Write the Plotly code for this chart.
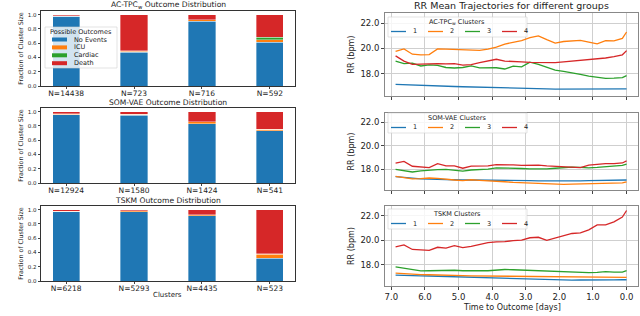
import plotly.graph_objects as go

# ---------------- data ----------------
outcomes = ["No Events", "ICU", "Cardiac", "Death"]
outcome_colors = ["#1f77b4", "#ff7f0e", "#2ca02c", "#d62728"]

actpc_sizes = ["N=14438", "N=723", "N=716", "N=592"]
actpc_no_events = [0.976, 0.476, 0.907, 0.615]
actpc_icu = [0.004, 0.014, 0.018, 0.033]
actpc_cardiac = [0.003, 0.005, 0.005, 0.037]
actpc_death = [0.017, 0.505, 0.070, 0.315]

somvae_sizes = ["N=12924", "N=1580", "N=1424", "N=541"]
somvae_no_events = [0.958, 0.950, 0.827, 0.732]
somvae_icu = [0.008, 0.010, 0.028, 0.022]
somvae_cardiac = [0.004, 0.005, 0.004, 0.002]
somvae_death = [0.030, 0.035, 0.141, 0.244]

tskm_sizes = ["N=6218", "N=5293", "N=4435", "N=523"]
tskm_no_events = [0.967, 0.970, 0.915, 0.320]
tskm_icu = [0.008, 0.013, 0.010, 0.058]
tskm_cardiac = [0.005, 0.002, 0.005, 0.002]
tskm_death = [0.020, 0.015, 0.070, 0.620]

days = [6.875, 6.625, 6.375, 6.125, 5.875, 5.625, 5.375, 5.125, 4.875, 4.625,
        4.375, 4.125, 3.875, 3.625, 3.375, 3.125, 2.875, 2.625, 2.375, 2.125,
        1.875, 1.625, 1.375, 1.125, 0.875, 0.625, 0.375, 0.125, 0.0]

actpc_rr_1 = [17.16, 17.13, 17.1, 17.07, 17.05, 17.05, 17.03, 17.0, 16.98, 16.97, 16.95, 16.93, 16.9, 16.9, 16.88,
              16.86, 16.85, 16.84, 16.82, 16.8, 16.8, 16.81, 16.8, 16.79, 16.8, 16.8, 16.79, 16.8, 16.82]
actpc_rr_2 = [19.77, 19.96, 19.55, 19.5, 19.52, 19.96, 19.95, 19.93, 19.9, 19.86, 19.85, 19.95, 20.1, 20.35, 20.5,
              20.62, 20.85, 21.0, 20.7, 20.42, 20.55, 20.62, 20.64, 20.5, 20.37, 20.62, 20.6, 20.8, 21.3]
actpc_rr_3 = [19.0, 18.8, 18.85, 18.62, 18.7, 18.67, 18.5, 18.46, 18.5, 18.62, 18.47, 18.46, 18.48, 18.38, 18.6,
              18.55, 18.92, 18.75, 18.5, 18.3, 18.2, 18.05, 17.95, 17.82, 17.7, 17.64, 17.66, 17.7, 17.86]
actpc_rr_4 = [19.42, 19.0, 18.75, 18.78, 18.8, 18.8, 18.78, 18.8, 18.68, 18.73, 18.88, 19.0, 19.15, 19.0, 19.0,
              18.95, 18.9, 18.88, 18.86, 18.88, 18.95, 19.0, 19.1, 19.14, 19.15, 19.25, 19.35, 19.5, 19.83]

somvae_rr_1 = [17.38, 17.3, 17.25, 17.19, 17.18, 17.15, 17.12, 17.1, 17.1, 17.1, 17.1, 17.1, 17.08, 17.07, 17.06,
               17.05, 17.04, 17.03, 17.02, 17.0, 17.01, 17.02, 17.03, 17.04, 17.05, 17.04, 17.06, 17.08, 17.1]
somvae_rr_2 = [17.4, 17.3, 17.19, 17.22, 17.27, 17.24, 17.15, 17.1, 17.05, 17.12, 17.07, 17.05, 17.0, 16.95, 16.9,
               16.86, 16.82, 16.78, 16.75, 16.72, 16.72, 16.75, 16.76, 16.76, 16.76, 16.78, 16.8, 16.85, 16.95]
somvae_rr_3 = [18.0, 17.9, 17.78, 17.88, 17.95, 17.98, 18.0, 17.96, 17.86, 17.95, 17.98, 18.02, 18.13, 18.13, 18.1,
               18.08, 18.05, 18.02, 18.05, 18.1, 18.15, 18.19, 18.17, 18.14, 18.18, 18.22, 18.25, 18.35, 18.46]
somvae_rr_4 = [18.54, 18.68, 18.27, 18.2, 18.15, 18.49, 18.3, 18.3, 18.1, 18.28, 18.27, 18.3, 18.4, 18.42, 18.38,
               18.35, 18.37, 18.36, 18.3, 18.27, 18.27, 18.22, 18.15, 18.36, 18.45, 18.49, 18.5, 18.55, 18.73]

tskm_rr_1 = [17.14, 17.1, 17.08, 17.08, 17.07, 17.05, 17.02, 17.0, 17.0, 16.98, 16.9, 16.9, 16.9, 16.88, 16.85,
             16.82, 16.8, 16.78, 16.75, 16.74, 16.73, 16.73, 16.74, 16.73, 16.74, 16.75, 16.75, 16.76, 16.76]
tskm_rr_2 = [17.3, 17.25, 17.2, 17.18, 17.17, 17.14, 17.1, 17.08, 17.1, 17.08, 17.07, 17.08, 17.07, 17.05, 17.04,
             17.03, 17.02, 17.02, 17.01, 17.0, 17.0, 16.98, 16.97, 16.96, 16.96, 16.95, 16.95, 16.95, 16.95]
tskm_rr_3 = [17.81, 17.7, 17.55, 17.49, 17.5, 17.52, 17.54, 17.54, 17.5, 17.53, 17.5, 17.5, 17.58, 17.6, 17.58,
             17.55, 17.56, 17.5, 17.45, 17.42, 17.42, 17.4, 17.38, 17.35, 17.37, 17.42, 17.38, 17.38, 17.51]
tskm_rr_4 = [19.46, 19.62, 19.24, 19.19, 19.16, 19.42, 19.35, 19.55, 19.4, 19.5, 19.66, 19.8, 19.86, 19.88, 19.97,
             20.0, 20.2, 20.24, 19.98, 20.15, 20.35, 20.55, 20.6, 20.85, 21.25, 21.25, 21.5, 21.9, 22.43]

cluster_names = ["1", "2", "3", "4"]
bar_titles = ["AC-TPC<sub>w</sub> Outcome Distribution", "SOM-VAE Outcome Distribution", "TSKM Outcome Distribution"]
line_legend_titles = ["AC-TPC<sub>w</sub> Clusters", "SOM-VAE Clusters", "TSKM Clusters"]

bar_groups = [
    (actpc_sizes, [actpc_no_events, actpc_icu, actpc_cardiac, actpc_death]),
    (somvae_sizes, [somvae_no_events, somvae_icu, somvae_cardiac, somvae_death]),
    (tskm_sizes, [tskm_no_events, tskm_icu, tskm_cardiac, tskm_death]),
]
line_groups = [
    [actpc_rr_1, actpc_rr_2, actpc_rr_3, actpc_rr_4],
    [somvae_rr_1, somvae_rr_2, somvae_rr_3, somvae_rr_4],
    [tskm_rr_1, tskm_rr_2, tskm_rr_3, tskm_rr_4],
]

# ---------------- layout geometry ----------------
W, H = 640, 316
FONT = "DejaVu Sans"


def px(x):
    return x / W


def py(y):
    return 1 - y / H


def ydom(top, bottom):
    return [py(bottom), py(top)]


left_x = [px(41), px(295)]
right_x = [px(385), px(638)]
left_y = [ydom(11, 86), ydom(108, 183), ydom(206, 281)]
right_y = [ydom(13, 96), ydom(113, 190), ydom(206, 286)]
right_tops = [13, 113, 206]

fig = go.Figure()
layout = dict(
    width=W, height=H, margin=dict(l=0, r=0, t=0, b=0, autoexpand=False),
    paper_bgcolor="white", plot_bgcolor="white",
    font=dict(family=FONT, color="#222"),
    barmode="stack", showlegend=False,
)
annotations = []
shapes = []

# ---- left bar panels ----
for i, (sizes, parts) in enumerate(bar_groups):
    xa = "x" if i == 0 else f"x{i + 1}"
    ya = "y" if i == 0 else f"y{i + 1}"
    for k, (name, vals) in enumerate(zip(outcomes, parts)):
        fig.add_trace(go.Bar(
            x=list(range(4)), y=vals, name=name, width=0.4,
            marker=dict(color=outcome_colors[k], line=dict(width=0.6, color="rgba(255,255,255,0.6)")),
            xaxis=xa, yaxis=ya,
        ))
    axkey = "xaxis" if i == 0 else f"xaxis{i + 1}"
    aykey = "yaxis" if i == 0 else f"yaxis{i + 1}"
    layout[axkey] = dict(
        domain=left_x, anchor=ya, range=[-0.37, 3.37],
        tickmode="array", tickvals=list(range(4)), ticktext=sizes,
        tickfont=dict(size=7.5), ticks="outside", ticklen=2.5, ticklabelstandoff=-2,
        showline=True, linecolor="#333", linewidth=0.8, mirror=True,
        showgrid=False, zeroline=False,
    )
    layout[aykey] = dict(
        domain=left_y[i], anchor=xa, range=[0, 1.05],
        tickmode="array", tickvals=[0, 0.2, 0.4, 0.6, 0.8, 1.0], tickformat=".1f",
        tickfont=dict(size=5.5), ticks="outside", ticklen=2.5,
        showline=True, linecolor="#333", linewidth=0.8, mirror=True,
        showgrid=False, zeroline=False,
        title=dict(text="Fraction of Cluster Size", font=dict(size=6.3), standoff=3),
    )
    annotations.append(dict(
        text=bar_titles[i], x=(left_x[0] + left_x[1]) / 2, xref="paper", xanchor="center",
        y=left_y[i][1], yref="paper", yanchor="bottom", yshift=-1, showarrow=False,
        font=dict(size=7.6),
    ))

annotations.append(dict(
    text="Clusters", x=px(167), xref="paper", xanchor="center",
    y=py(295), yref="paper", yanchor="middle", showarrow=False, font=dict(size=7),
))

# ---- custom legend for outcomes ----
shapes.append(dict(type="rect", xref="paper", yref="paper", x0=px(45), x1=px(117), y0=py(68), y1=py(27),
                   fillcolor="rgba(255,255,255,0.8)", line=dict(color="#d0d0d0", width=0.6), layer="above"))
annotations.append(dict(text="Possible Outcomes", x=px(81), xref="paper", xanchor="center",
                        y=py(32), yref="paper", yanchor="middle", showarrow=False, font=dict(size=6.5)))
for k, name in enumerate(outcomes):
    yc = 39.5 + k * 7.9
    shapes.append(dict(type="rect", xref="paper", yref="paper", x0=px(52), x1=px(67),
                       y0=py(yc + 2), y1=py(yc - 2), fillcolor=outcome_colors[k], line=dict(width=0),
                       layer="above"))
    annotations.append(dict(text=name, x=px(72), xref="paper", xanchor="left",
                            y=py(yc), yref="paper", yanchor="middle", showarrow=False, font=dict(size=6.5)))

# ---- right line panels ----
for i, series in enumerate(line_groups):
    idx = i + 4
    xa, ya = f"x{idx}", f"y{idx}"
    for k, vals in enumerate(series):
        fig.add_trace(go.Scatter(
            x=days, y=vals, mode="lines", name=cluster_names[k],
            line=dict(color=outcome_colors[k], width=1.3),
            xaxis=xa, yaxis=ya,
        ))
    layout[f"xaxis{idx}"] = dict(
        domain=right_x, anchor=ya, range=[7.19, -0.34],
        tickmode="array", tickvals=[7, 6, 5, 4, 3, 2, 1, 0], tickformat=".1f",
        showticklabels=(i == 2), tickfont=dict(size=8.5),
        ticks="outside", ticklen=3, tickcolor="#444",
        showline=True, linecolor="#888", linewidth=0.8, mirror=True,
        showgrid=True, gridcolor="#cfcfcf", gridwidth=0.8, zeroline=False,
    )
    layout[f"yaxis{idx}"] = dict(
        domain=right_y[i], anchor=xa, range=[16.25, 22.8],
        tickmode="array", tickvals=[18, 20, 22], tickformat=".1f",
        tickfont=dict(size=8.5), ticks="outside", ticklen=3, tickcolor="#444",
        showline=True, linecolor="#888", linewidth=0.8, mirror=True,
        showgrid=True, gridcolor="#cfcfcf", gridwidth=0.8, zeroline=False,
        title=dict(text="RR (bpm)", font=dict(size=8), standoff=4),
    )
    # custom horizontal legend
    top = right_tops[i]
    t_title = top + (9 if i == 0 else 5 if i == 1 else 8)
    t_items = t_title + 9.5
    shapes.append(dict(type="rect", xref="paper", yref="paper", x0=px(388), x1=px(527),
                       y0=py(t_items + 5.5), y1=py(t_title - 5),
                       fillcolor="rgba(255,255,255,0.8)", line=dict(color="#d0d0d0", width=0.6), layer="above"))
    annotations.append(dict(text=line_legend_titles[i], x=px(457), xref="paper", xanchor="center",
                            y=py(t_title), yref="paper", yanchor="middle", showarrow=False,
                            font=dict(size=6.5)))
    for k, name in enumerate(cluster_names):
        x0 = 391 + k * 37
        shapes.append(dict(type="line", xref="paper", yref="paper", x0=px(x0), x1=px(x0 + 15),
                           y0=py(t_items), y1=py(t_items), line=dict(color=outcome_colors[k], width=1.3),
                           layer="above"))
        annotations.append(dict(text=name, x=px(x0 + 20), xref="paper", xanchor="left",
                                y=py(t_items), yref="paper", yanchor="middle", showarrow=False,
                                font=dict(size=6.5)))

annotations.append(dict(
    text="RR Mean Trajectories for different groups", x=(right_x[0] + right_x[1]) / 2, xref="paper",
    xanchor="center", y=py(5.5), yref="paper", yanchor="middle", showarrow=False, font=dict(size=9.5),
))
annotations.append(dict(
    text="Time to Outcome [days]", x=(right_x[0] + right_x[1]) / 2, xref="paper", xanchor="center",
    y=py(307), yref="paper", yanchor="middle", showarrow=False, font=dict(size=8),
))

layout["annotations"] = annotations
layout["shapes"] = shapes
fig.update_layout(**layout)
fig.write_html("out.html", config={"displayModeBar": False},
               post_script="document.body.style.margin='0';document.body.style.overflow='hidden';")
